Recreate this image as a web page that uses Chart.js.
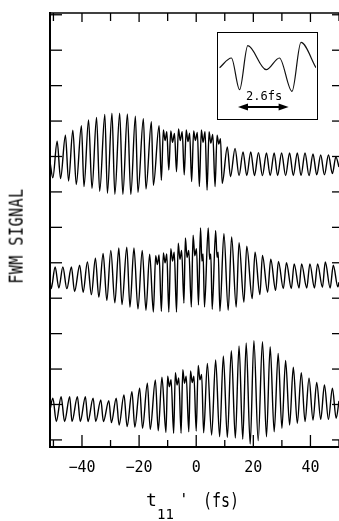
<!DOCTYPE html>
<html>
<head>
<meta charset="utf-8">
<script src="https://cdn.jsdelivr.net/npm/chart.js@4/dist/chart.umd.min.js"></script>
<style>
  body { margin: 0; background: #fff; }
  #wrap { position: relative; width: 339px; height: 521px; overflow: hidden; }
  #chart { position: absolute; left: 0; top: 0; }
  #insetBox { position: absolute; left: 217px; top: 32px; width: 101px; height: 88px;
              border: 1.5px solid #000; box-sizing: border-box; background: #fff; }
  #inset { position: absolute; left: 0; top: 0; }
  .lbl { position: absolute; font-family: 'DejaVu Sans Mono', monospace; color: #000;
         white-space: nowrap; line-height: 1; }
</style>
</head>
<body>
<div id="wrap">
  <canvas id="chart" width="339" height="521"></canvas>
  <div id="insetBox"><canvas id="inset" width="98" height="85"></canvas></div>
  <div class="lbl" id="inLbl" style="left:246px; top:90px; font-size:12px;">2.6fs</div>
  <div class="lbl" id="yLbl" style="left:17px; top:236px; font-size:15px; letter-spacing:0.5px;
       transform: translate(-50%, -50%) rotate(-90deg) scale(1, 1.3);">FWM SIGNAL</div>
  <div class="lbl" style="left:146px; top:491px; font-size:18px;">t</div>
  <div class="lbl" style="left:157px; top:507px; font-size:14px;">11</div>
  <div class="lbl" style="left:179px; top:492px; font-size:16px;">'</div>
  <div class="lbl" style="left:203px; top:491px; font-size:15px; transform-origin: 0 0; transform: scale(1, 1.3);">(fs)</div>
</div>
<script>
// x axis (fs) and hidden y axis (trace offsets)
const xMajor = [-40, -20, 0, 20, 40];
const xMinor = [-50, -30, -10, 10, 30, 50];
const yTicks = [0, 1, 2, 3, 4, 5, 6, 7, 8, 9, 10, 11, 12];

// top trace: delay (fs) / signal
const topT = [-51.2, -50.2, -48.7, -47.5, -45.8, -44.7, -43.2, -42.0, -40.2, -39.3, -37.7, -36.5,
  -34.9, -33.8, -32.0, -31.1, -29.5, -28.5, -26.8, -25.7, -24.1, -22.9, -21.3, -20.4, -18.5, -17.6,
  -15.7, -15.0, -13.0, -12.2, -11.5, -10.9, -10.3, -9.6, -8.9, -8.3, -7.6, -6.9, -6.2, -5.6, -4.9,
  -4.2, -3.5, -2.9, -2.3, -1.6, -0.9, -0.3, 0.4, 1.1, 1.8, 2.4, 3.1, 3.8, 4.5, 5.1, 5.8, 6.6, 7.3,
  7.9, 8.5, 9.1, 10.9, 12.0, 13.6, 15.0, 16.4, 17.7, 19.1, 20.4, 21.8, 23.2, 24.6, 25.9, 27.3, 28.5,
  29.9, 31.3, 32.7, 34.0, 35.4, 36.7, 38.1, 39.5, 40.9, 42.2, 43.6, 44.9, 46.3, 47.7, 48.9, 50.0];
const topV = [7.85, 7.40, 8.43, 7.38, 8.60, 7.31, 8.74, 7.21, 8.87, 7.15, 9.03, 7.10,
  9.10, 7.02, 9.19, 6.96, 9.22, 6.93, 9.22, 6.93, 9.20, 6.93, 9.14, 6.99, 9.07, 7.08,
  8.98, 7.19, 8.87, 7.33, 8.75, 8.45, 8.70, 7.62, 8.72, 8.40, 8.65, 7.57, 8.78, 8.45, 8.70,
  7.48, 8.75, 8.42, 8.66, 7.29, 8.72, 8.45, 8.68, 7.15, 8.75, 8.40, 8.70, 7.05, 8.70, 8.38, 8.62, 7.15, 8.60,
  8.35, 8.50, 7.24, 8.27, 7.43, 8.23, 7.46, 8.13, 7.46, 8.13, 7.46, 8.11, 7.46, 8.10, 7.46, 8.10, 7.46,
  8.10, 7.46, 8.10, 7.46, 8.10, 7.46, 8.10, 7.46, 8.07, 7.48, 8.04, 7.48, 8.04, 7.52, 7.99, 7.70];

// middle trace
const midT = [-51.2, -50.8, -49.4, -48.1, -46.7, -45.3, -43.7, -42.6, -40.8, -39.6, -38.1, -36.7,
  -35.3, -34.1, -32.6, -31.3, -29.9, -28.5, -27.1, -26.0, -24.3, -23.2, -21.8, -20.4, -18.9, -17.6,
  -16.3, -15.0, -14.2, -13.6, -13.0, -12.2, -11.5, -10.9, -10.3, -9.6, -8.9, -8.3, -7.7, -6.9, -6.3,
  -5.7, -5.1, -4.3, -3.8, -3.2, -2.6, -1.7, -1.1, -0.5, 0.1, 0.8, 1.5, 2.0, 2.4, 2.9, 4.2, 4.7, 5.1,
  5.6, 6.8, 7.3, 7.7, 8.3, 9.7, 11.2, 12.4, 14.0, 15.0, 16.7, 17.7, 19.6, 20.6, 22.3, 23.2, 25.0,
  26.1, 27.8, 28.8, 30.5, 31.6, 33.3, 34.3, 36.0, 36.9, 38.7, 39.8, 41.4, 42.5, 44.2, 45.2, 46.9,
  48.0, 49.6, 50.0];
const midV = [4.55, 4.27, 4.88, 4.29, 4.88, 4.27, 4.88, 4.19, 4.93, 4.17, 5.02, 4.10,
  5.13, 4.03, 5.26, 3.94, 5.35, 3.87, 5.42, 3.82, 5.44, 3.75, 5.42, 3.70, 5.35, 3.66,
  5.24, 3.61, 5.20, 4.95, 5.22, 3.63, 5.28, 5.00, 5.25, 3.61, 5.40, 5.05, 5.30, 3.61, 5.55,
  5.10, 5.35, 3.86, 5.70, 5.15, 5.35, 3.75, 5.78, 5.20, 5.40, 3.81, 5.98, 5.05, 5.25, 3.75, 5.98, 5.10, 5.25,
  3.69, 5.91, 5.15, 5.30, 3.63, 5.82, 3.66, 5.73, 3.75, 5.57, 3.89, 5.47, 3.99, 5.30, 4.10, 5.21, 4.17,
  5.10, 4.22, 5.04, 4.27, 5.00, 4.27, 4.97, 4.29, 4.97, 4.29, 4.97, 4.29, 4.97, 4.31, 5.02, 4.29,
  4.93, 4.32, 4.45];

// bottom trace
const botT = [-51.2, -50.2, -49.0, -47.3, -46.1, -44.3, -43.5, -41.6, -40.6, -38.8, -37.9, -36.1,
  -35.2, -33.4, -32.5, -30.6, -29.7, -28.0, -27.0, -25.3, -24.2, -22.5, -21.5, -19.8, -18.8, -17.1,
  -16.1, -14.3, -13.3, -12.0, -10.6, -10.0, -9.4, -8.8, -7.9, -7.3, -6.7, -6.1, -5.3, -4.7, -4.1,
  -3.5, -2.6, -2.0, -1.4, -0.8, 0.0, 0.7, 1.3, 1.9, 2.6, 3.9, 5.4, 6.8, 8.2, 9.5, 10.9, 12.3, 13.7,
  15.0, 16.3, 17.5, 18.9, 20.2, 21.7, 23.2, 24.6, 25.9, 27.3, 28.7, 30.0, 31.3, 32.7, 34.0, 35.4,
  36.8, 38.1, 39.5, 40.9, 42.2, 43.6, 44.9, 46.3, 47.7, 49.0, 50.0];
const botV = [0.85, 1.18, 0.52, 1.22, 0.52, 1.22, 0.52, 1.22, 0.52, 1.22, 0.52, 1.18,
  0.52, 1.13, 0.52, 1.11, 0.49, 1.18, 0.42, 1.27, 0.38, 1.36, 0.36, 1.46, 0.33, 1.60,
  0.30, 1.69, 0.26, 1.77, 0.21, 1.80, 1.50, 1.70, 0.19, 1.90, 1.55, 1.75, 0.19, 1.98, 1.60,
  1.80, 0.23, 1.95, 1.62, 1.80, 0.25, 2.10, 1.70, 1.85, 0.20, 2.16, 0.14, 2.26, 0.09, 2.37, 0.07, 2.52, 0.05,
  2.65, 0.02, 2.74, -0.12, 2.80, -0.02, 2.77, 0.09, 2.63, 0.23, 2.44, 0.33, 2.24, 0.42, 2.05, 0.47,
  1.90, 0.52, 1.74, 0.56, 1.62, 0.58, 1.55, 0.58, 1.46, 0.61, 1.10];

// inset: one optical cycle
const insetT = [0.08, 0.67, 1.08, 1.49, 2.41, 3.07, 3.70, 4.15, 4.90];
const insetV = [5.92, 7.06, 3.33, 8.51, 5.68, 7.06, 3.13, 8.89, 5.92];
const arrowT = [1.0, 3.53];
const arrowV = 1.29;

function toPoints(ts, vs) {
    return ts.map((t, i) => ({ x: t, y: vs[i] }));
}

function trace(ts, vs) {
    return {
        data: toPoints(ts, vs),
        borderColor: '#000',
        borderWidth: 1.4,
        pointRadius: 0,
        cubicInterpolationMode: 'monotone',
        fill: false
    };
}

function line(ctx, x1, y1, x2, y2) {
    ctx.beginPath();
    ctx.moveTo(x1, y1);
    ctx.lineTo(x2, y2);
    ctx.stroke();
}

// box round the plot with ticks pointing inwards (right edge is cut off in the original)
const framePlugin = {
    id: 'frame',
    afterDraw(chart) {
        const { ctx, chartArea: a } = chart;
        const x = chart.scales.x;
        const y = chart.scales.y;
        ctx.save();
        ctx.strokeStyle = '#000';
        ctx.lineWidth = 1.3;
        line(ctx, a.left, a.top, a.right, a.top);
        ctx.lineWidth = 2;
        line(ctx, a.left, a.top - 1, a.left, a.bottom + 1);
        line(ctx, a.left - 1, a.bottom, a.right + 1, a.bottom);

        ctx.lineWidth = 1.3;
        yTicks.forEach(v => {
            const py = y.getPixelForValue(v);
            line(ctx, a.left, py, a.left + 12, py);
            line(ctx, a.right - 7, py, a.right, py);
        });
        xMajor.forEach(v => {
            const px = x.getPixelForValue(v);
            line(ctx, px, a.bottom, px, a.bottom - 12);
            line(ctx, px, a.top, px, a.top + 9);
        });
        xMinor.forEach(v => {
            const px = x.getPixelForValue(v);
            line(ctx, px, a.bottom, px, a.bottom - 7);
            line(ctx, px, a.top, px, a.top + 8);
        });
        ctx.restore();
    }
};

// double headed arrow in the inset, placed through its scales
const arrowPlugin = {
    id: 'arrow',
    afterDraw(chart) {
        const { ctx } = chart;
        const x1 = chart.scales.x.getPixelForValue(arrowT[0]);
        const x2 = chart.scales.x.getPixelForValue(arrowT[1]);
        const py = chart.scales.y.getPixelForValue(arrowV);
        ctx.save();
        ctx.strokeStyle = '#000';
        ctx.fillStyle = '#000';
        ctx.lineWidth = 2;
        line(ctx, x1 + 6, py, x2 - 6, py);
        ctx.beginPath();
        ctx.moveTo(x1, py);
        ctx.lineTo(x1 + 10, py - 3.5);
        ctx.lineTo(x1 + 10, py + 3.5);
        ctx.closePath();
        ctx.fill();
        ctx.beginPath();
        ctx.moveTo(x2, py);
        ctx.lineTo(x2 - 10, py - 3.5);
        ctx.lineTo(x2 - 10, py + 3.5);
        ctx.closePath();
        ctx.fill();
        ctx.restore();
    }
};

new Chart(document.getElementById('chart'), {
    type: 'line',
    data: {
        datasets: [trace(topT, topV), trace(midT, midV), trace(botT, botV)]
    },
    options: {
        responsive: false,
        animation: false,
        devicePixelRatio: 1,
        layout: { padding: { left: 50, right: 0, top: 13, bottom: 0 } },
        plugins: { legend: { display: false }, tooltip: { enabled: false } },
        scales: {
            x: {
                type: 'linear',
                min: -51.2,
                max: 50,
                grid: { display: false, drawTicks: false },
                border: { display: false },
                ticks: {
                    color: '#000',
                    font: { family: 'DejaVu Sans Mono', size: 15 },
                    padding: 12,
                    maxRotation: 0,
                    autoSkip: false,
                    callback: v => (v < 0 ? '\u2212' + (-v) : '' + v)
                },
                afterBuildTicks: s => { s.ticks = xMajor.map(v => ({ value: v })); },
                afterFit: s => { s.height = 74; }
            },
            y: { display: false, min: -0.2, max: 12.05 }
        }
    },
    plugins: [framePlugin]
});

new Chart(document.getElementById('inset'), {
    type: 'line',
    data: {
        datasets: [{
            data: toPoints(insetT, insetV),
            borderColor: '#111',
            borderWidth: 1.2,
            pointRadius: 0,
            cubicInterpolationMode: 'monotone',
            fill: false
        }]
    },
    options: {
        responsive: false,
        animation: false,
        devicePixelRatio: 1,
        layout: { padding: 0 },
        plugins: { legend: { display: false }, tooltip: { enabled: false } },
        scales: {
            x: { type: 'linear', display: false, min: 0, max: 4.9 },
            y: { display: false, min: 0, max: 10 }
        }
    },
    plugins: [arrowPlugin]
});
</script>
</body>
</html>
